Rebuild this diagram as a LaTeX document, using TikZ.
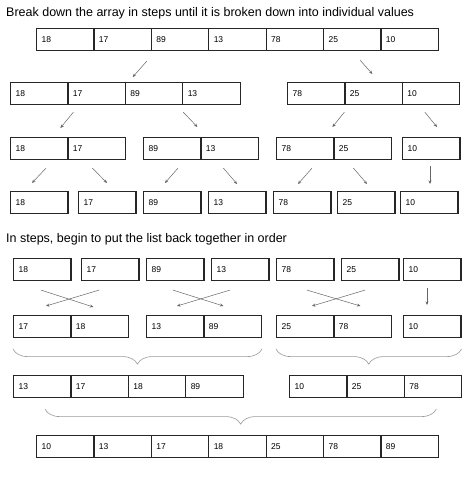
\documentclass[tikz,border=0pt]{standalone}
\usepackage{fontspec}
\setmainfont{Liberation Sans}
\usetikzlibrary{arrows.meta,decorations.pathreplacing}
\tikzset{
  cell/.style={draw=black!85, line width=1.1pt, anchor=north west, minimum height=22pt,
    text width=47.4pt, inner xsep=5pt, inner ysep=0pt, align=left, font=\fontsize{8.5}{10}\selectfont},
  arrow/.style={draw=black!60, line width=0.5pt, -{Stealth[length=3.5pt,width=3pt]}},
  bracket/.style={draw=black!40, line width=0.6pt, decorate,
    decoration={brace, mirror, amplitude=15pt}},
  heading/.style={anchor=base west, inner sep=0pt, font=\fontsize{12.5}{14}\selectfont}
}
\begin{document}
\begin{tikzpicture}[x=1pt,y=-1pt]
  \def\cells#1#2#3#4{\foreach \v [count=\i from 0] in {#4}
    \node[cell] (#1\i) at (#2+57.4*\i,#3) {\v};}
  \useasboundingbox (0,0) rectangle (474,478);
  \node[heading] (title1) at (6,17) {Break down the array in steps until it is broken down into individual values};
  \cells{a}{36}{28}{18,17,89,13,78,25,10}
  \cells{b}{10}{82}{18,17,89,13}
  \cells{c}{287}{82}{78,25,10}
  \cells{d}{10}{137}{18,17}
  \cells{e}{143}{137}{89,13}
  \cells{f}{276}{137}{78,25}
  \cells{g}{402}{137}{10}
  \foreach \v/\x [count=\i from 0] in {18/10,17/78,89/143,13/208,78/273,25/337,10/400}
    \node[cell] (h\i) at (\x,191) {\v};
  \foreach \s/\sx/\sy/\t/\tx/\ty in {a2/-4/10/b2/8/-5, a5/37/9/c1/28/-8,
      b1/6/7/d1/-7/-9, b3/1/7/e1/-3/-10, c1/0/7/f1/-1/-10, c2/23/7/g0/35/-10,
      d0/36/8/h0/22/-8, d1/25/8/h1/29/-8, e0/35/8/h2/22/-8, e1/23/8/h3/29/-7,
      f0/36/8/h4/25/-7, f1/20/8/h5/30/-7, g0/28/6/h6/30/-7}
    \draw[arrow] ([shift={(\sx,\sy)}]\s.south west) -- ([shift={(\tx,\ty)}]\t.north west);
  \node[heading] (title2) at (6,242) {In steps, begin to put the list back together in order};
  \foreach \v/\x [count=\i from 0] in {18/13,17/81,89/146,13/211,78/276,25/341,10/403}
    \node[cell] (k\i) at (\x,258) {\v};
  \cells{m}{13}{315}{17,18}
  \cells{n}{146}{315}{13,89}
  \cells{p}{276}{315}{25,78}
  \cells{q}{403}{315}{10}
  \foreach \s/\sx/\sy/\t/\tx/\ty in {k0/28/9/m1/23/-8, k1/18/9/m0/33/-9,
      k2/27/9/n1/20/-9, k3/19/9/n0/31/-9, k4/31/9/p1/27/-9, k5/24/9/p0/36/-9,
      k6/24/7/q0/24/-10}
    \draw[arrow] ([shift={(\sx,\sy)}]\s.south west) -- ([shift={(\tx,\ty)}]\t.north west);
  \draw[bracket] ([yshift=-11pt]m0.south west) -- ([yshift=-11pt]n1.south east);
  \draw[bracket] ([yshift=-11pt]p0.south west) -- ([yshift=-11pt]q0.south east);
  \cells{r}{13}{375}{13,17,18,89}
  \cells{s}{289}{375}{10,25,78}
  \draw[bracket] ([shift={(32,11)}]r0.south west) -- ([shift={(-26,11)}]s2.south east);
  \cells{t}{36}{435}{10,13,17,18,25,78,89}
\end{tikzpicture}
\end{document}
